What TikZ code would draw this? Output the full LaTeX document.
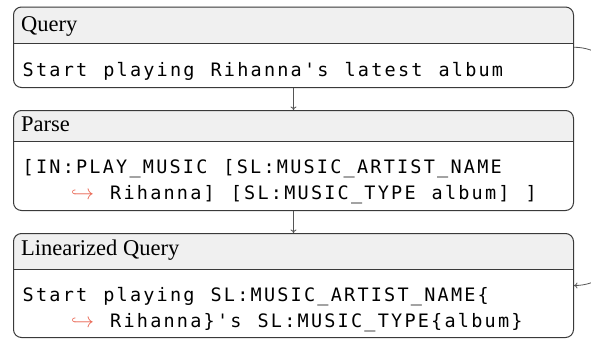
\documentclass[tikz,border=0pt]{standalone}
\usepackage{fontspec}
\setmainfont{Liberation Serif}
\setmonofont{DejaVu Sans Mono}[LetterSpace=12,WordSpace=1.2]
\usetikzlibrary{arrows.meta}
\definecolor{bordc}{HTML}{3A3A3A}
\definecolor{titlec}{HTML}{F0F0F0}
\definecolor{connc}{HTML}{555555}
\definecolor{hookc}{HTML}{E8604C}
\tikzset{
  x=1pt,y=1pt,
  box/.style={draw=bordc, line width=1pt, rounded corners=8pt, minimum width=560pt, anchor=north west, inner sep=0pt},
  ttl/.style={anchor=base west, inner sep=0pt, font=\fontsize{22.5}{24}\selectfont},
  code/.style={anchor=base west, inner sep=0pt, font=\fontsize{18.5}{20}\ttfamily},
  hook/.style={anchor=base west, inner sep=0pt, text=hookc, font=\fontsize{21}{22}\selectfont},
  conn/.style={draw=connc, line width=0.8pt, -{To[length=3.5pt,width=6pt]}},
  sep/.style={draw=bordc, line width=0.8pt}
}
\newcommand{\titleband}[2]{% #1 top, #2 sep
  \fill[titlec] (13,#2) -- (13,#1-8) arc[start angle=180,end angle=90,radius=8] -- (565,#1) arc[start angle=90,end angle=0,radius=8] -- (573,#2) -- cycle;}
\begin{document}
\begin{tikzpicture}
\useasboundingbox (0,0) rectangle (591,-338);
\clip (0,0) rectangle (591,-338);
% title bands
\titleband{-6.5}{-43}
\titleband{-110}{-141}
\titleband{-233}{-269}
% boxes
\node[box, minimum height=80.5pt] (q) at (13,-6.5) {};
\node[box, minimum height=100pt] (p) at (13,-110) {};
\node[box, minimum height=104pt] (l) at (13,-233) {};
\draw[sep] (q.west |- 0,-43) -- (q.east |- 0,-43);
\draw[sep] (p.west |- 0,-141) -- (p.east |- 0,-141);
\draw[sep] (l.west |- 0,-269) -- (l.east |- 0,-269);
% titles
\node[ttl] (qt) at (21,-31) {Query};
\node[ttl] (pt) at (21,-131.5) {Parse};
\node[ttl] (lt) at (21,-255.5) {Linearized Query};
% code
\node[code] (qc) at (22.5,-76) {Start playing Rihanna's latest album};
\node[code] (pc1) at (22.5,-173) {[IN:PLAY\_MUSIC [SL:MUSIC\_ARTIST\_NAME};
\node[hook] (ph) at (71,-199) {$\hookrightarrow$};
\node[code] (pc2) at (110,-199) {Rihanna] [SL:MUSIC\_TYPE album] ]};
\node[code] (lc1) at (22.5,-301.5) {Start playing SL:MUSIC\_ARTIST\_NAME\{};
\node[hook] (lh) at (71,-327.3) {$\hookrightarrow$};
\node[code] (lc2) at (110,-327.3) {Rihanna\}'s SL:MUSIC\_TYPE\{album\}};
% connectors
\draw[conn] (q.south) -- (p.north);
\draw[conn] (p.south) -- (l.north);
\draw[conn] (q.east) to[out=0,in=0] (l.east);
\end{tikzpicture}
\end{document}
